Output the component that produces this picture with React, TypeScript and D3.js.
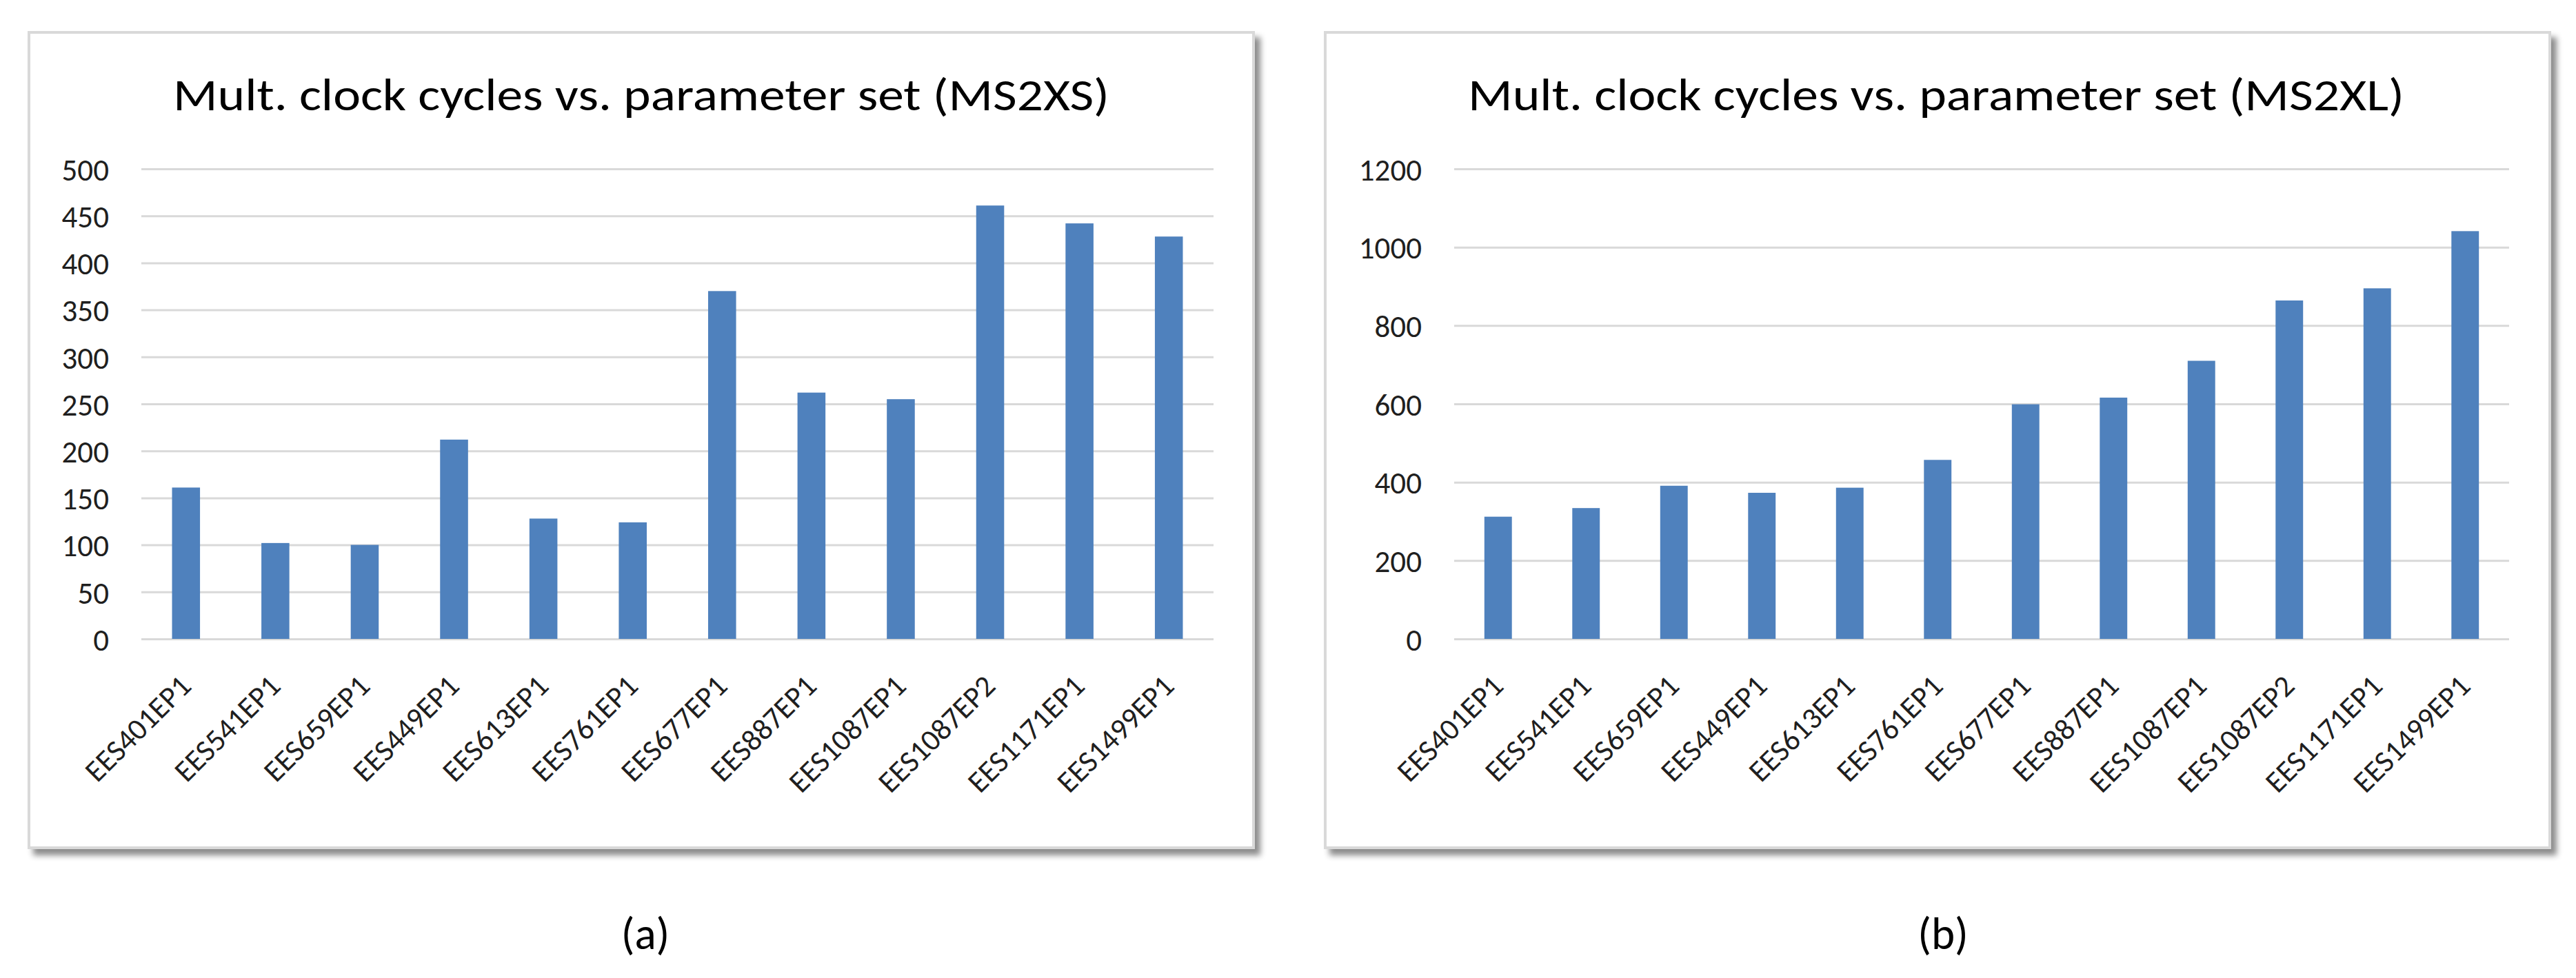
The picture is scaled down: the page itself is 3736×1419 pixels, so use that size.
import React, { useEffect, useRef } from 'react';
import * as d3 from 'd3';

const CATEGORIES = [
  'EES401EP1', 'EES541EP1', 'EES659EP1', 'EES449EP1', 'EES613EP1', 'EES761EP1',
  'EES677EP1', 'EES887EP1', 'EES1087EP1', 'EES1087EP2', 'EES1171EP1', 'EES1499EP1',
];
const MS2XS_VALUES = [161, 102, 100, 212, 128, 124, 370, 262, 255, 461, 442, 428];
const MS2XL_VALUES = [312, 334, 391, 373, 386, 457, 599, 616, 710, 864, 895, 1041];
const MS2XS_TICKS = [0, 50, 100, 150, 200, 250, 300, 350, 400, 450, 500];
const MS2XL_TICKS = [0, 200, 400, 600, 800, 1000, 1200];
const TITLES = [
  'Mult. clock cycles vs. parameter set (MS2XS)',
  'Mult. clock cycles vs. parameter set (MS2XL)',
];
const CAPTIONS = ['(a)', '(b)'];

const WIDTH = 3736;
const HEIGHT = 1419;
const FONT = "Carlito, Calibri, Lato, 'Open Sans', sans-serif";
const BAR_COLOR = '#4f81bd';
const GRID_COLOR = '#d9d9d9';
const TEXT_COLOR = '#1f1f1f';

// layout of the two panels, in page pixels
const LAYOUT = [
  { frame: [42, 47, 1776, 1183], plot: [205, 1760, 245, 927], titleX: 930, captionX: 936 },
  { frame: [1922, 47, 1776, 1183], plot: [2109, 3639, 245, 927], titleX: 2808, captionX: 2818 },
];

const App = () => {
  const ref = useRef(null);

  useEffect(() => {
    const svg = d3.select(ref.current);
    svg.selectAll('*').remove();

    const defs = svg.append('defs');
    const filter = defs.append('filter').attr('id', 'shadow')
      .attr('x', '-5%').attr('y', '-5%').attr('width', '110%').attr('height', '110%');
    filter.append('feDropShadow')
      .attr('dx', 8).attr('dy', 9).attr('stdDeviation', 4)
      .attr('flood-color', '#000').attr('flood-opacity', 0.45);

    const series = [
      { values: MS2XS_VALUES, ticks: MS2XS_TICKS },
      { values: MS2XL_VALUES, ticks: MS2XL_TICKS },
    ];

    series.forEach((s, i) => {
      const lay = LAYOUT[i];
      const [fx, fy, fw, fh] = lay.frame;
      const [x0, x1, yTop, yBottom] = lay.plot;
      const g = svg.append('g');

      g.append('rect')
        .attr('x', fx).attr('y', fy).attr('width', fw).attr('height', fh)
        .attr('fill', '#fff')
        .attr('stroke', GRID_COLOR).attr('stroke-width', 4)
        .attr('filter', 'url(#shadow)');

      const xScale = d3.scaleBand()
        .domain(CATEGORIES)
        .range([x0, x1])
        .paddingInner(0.687)
        .paddingOuter(0.3435);
      const yScale = d3.scaleLinear()
        .domain([0, d3.max(s.ticks)])
        .range([yBottom, yTop]);

      // gridlines + y labels
      const yAxis = g.append('g')
        .attr('transform', `translate(${x0},0)`)
        .call(d3.axisLeft(yScale)
          .tickValues(s.ticks)
          .tickFormat(d3.format('d'))
          .tickSize(-(x1 - x0))
          .tickPadding(47)
          .tickSizeOuter(0));
      yAxis.select('.domain').remove();
      yAxis.selectAll('line').attr('stroke', GRID_COLOR).attr('stroke-width', 3);
      yAxis.selectAll('text')
        .attr('font-family', FONT).attr('font-size', 45).attr('fill', TEXT_COLOR)
        .attr('dy', '0.36em');

      g.selectAll('.bar')
        .data(s.values)
        .enter()
        .append('rect')
        .classed('bar', true)
        .attr('x', (d, j) => xScale(CATEGORIES[j]))
        .attr('width', xScale.bandwidth())
        .attr('y', (d) => yScale(d))
        .attr('height', (d) => yBottom - yScale(d))
        .attr('fill', BAR_COLOR);

      // rotated category labels
      const xAxis = g.append('g')
        .attr('transform', `translate(0,${yBottom})`)
        .call(d3.axisBottom(xScale).tickSize(0).tickPadding(0));
      xAxis.select('.domain').remove();
      xAxis.selectAll('text')
        .attr('font-family', FONT).attr('font-size', 44).attr('fill', TEXT_COLOR)
        .attr('y', 0).attr('dy', 0)
        .attr('text-anchor', 'end')
        .attr('transform', 'translate(10,71) rotate(-45)');

      g.append('text')
        .attr('x', lay.titleX).attr('y', 160)
        .attr('text-anchor', 'middle')
        .attr('font-family', FONT).attr('font-size', 66).attr('fill', '#000')
        .attr('textLength', 1358).attr('lengthAdjust', 'spacingAndGlyphs')
        .text(TITLES[i]);

      svg.append('text')
        .attr('x', lay.captionX).attr('y', 1377)
        .attr('text-anchor', 'middle')
        .attr('font-family', FONT).attr('font-size', 65).attr('fill', '#000')
        .text(CAPTIONS[i]);
    });
  }, []);

  return (
    <svg
      ref={ref}
      width={WIDTH}
      height={HEIGHT}
      style={{ position: 'absolute', left: 0, top: 0, display: 'block', background: '#fff' }}
    />
  );
};

export default App;
